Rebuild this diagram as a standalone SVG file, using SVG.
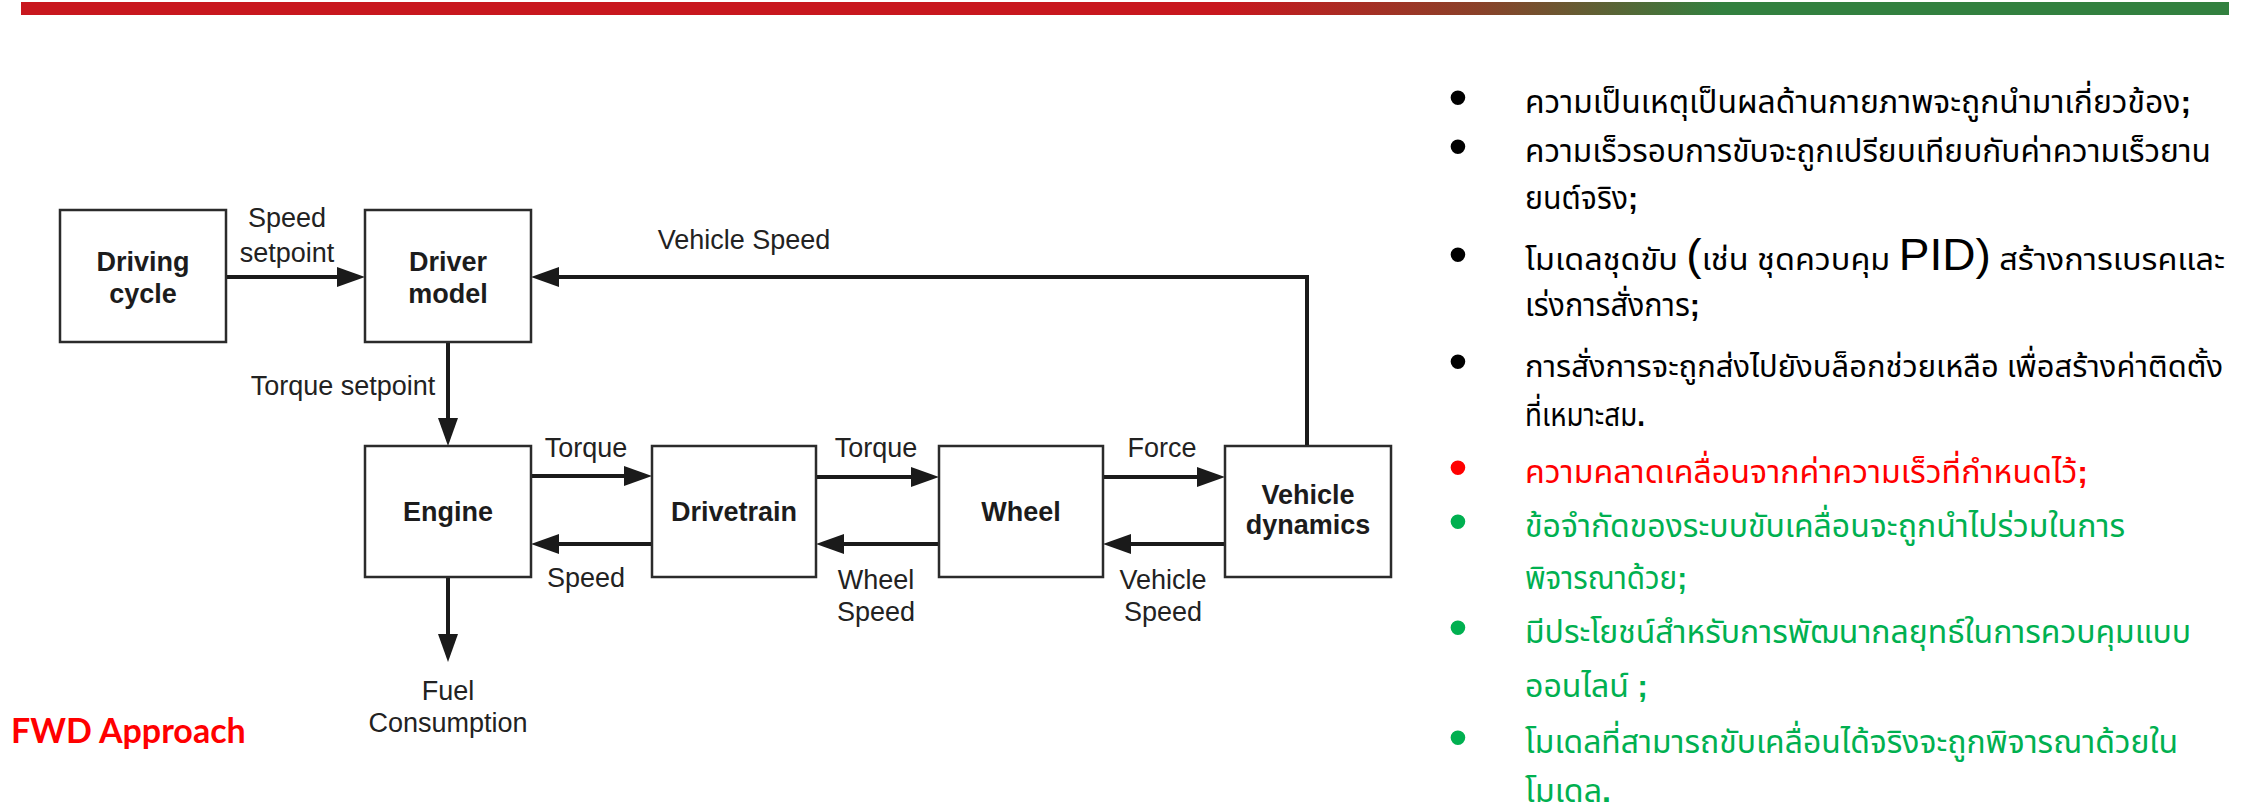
<svg xmlns="http://www.w3.org/2000/svg" width="2241" height="812" viewBox="0 0 2241 812">
  <defs>
    <linearGradient id="topBand" x1="21" y1="0" x2="2229" y2="0" gradientUnits="userSpaceOnUse">
      <stop offset="0.545" stop-color="#C8171E"/>
      <stop offset="0.66" stop-color="#8A4129"/>
      <stop offset="0.77" stop-color="#32803F"/>
    </linearGradient>
    <marker id="arrow" markerUnits="userSpaceOnUse" viewBox="0 0 28 20" markerWidth="28" markerHeight="20" refX="6" refY="10" orient="auto">
      <path d="M0,0 L28,10 L0,20 Z" fill="#1a1a1a"/>
    </marker>
    <style>
      .box { fill: #ffffff; stroke: #2b2b2b; stroke-width: 2.5; }
      .node-text { font-family: "Liberation Sans", Arial, sans-serif; font-size: 27px; font-weight: bold; fill: #1c1c1c; text-anchor: middle; }
      .lbl { font-family: "Liberation Sans", Arial, sans-serif; font-size: 27px; fill: #222222; text-anchor: middle; }
      .wire { fill: none; stroke: #1a1a1a; stroke-width: 4; marker-end: url(#arrow); }
      .th { font-family: "Noto Sans Thai", "Noto Sans Thai Looped", "Noto Sans", sans-serif; font-size: 32px; }
      .tight { font-size: 31px; }
      .semi { font-family: "Liberation Sans", Arial, sans-serif; font-weight: bold; }
      .big { font-family: "Liberation Sans", Arial, sans-serif; font-size: 44px; }
      .bullet { font-family: "Liberation Sans", Arial, sans-serif; font-size: 54px; text-anchor: middle; }
      .black { fill: #000000; }
      .red { fill: #FF0000; }
      .green { fill: #00B050; }
    </style>
  </defs>

  <!-- header band -->
  <rect x="21" y="2" width="2208" height="13" fill="url(#topBand)"/>

  <!-- connectors -->
  <g id="connectors">
    <path class="wire" d="M226,277 H343"/>
    <path class="wire" d="M1307,446 V277 H553"/>
    <path class="wire" d="M448,342 V424"/>
    <path class="wire" d="M448,577 V640"/>
    <path class="wire" d="M531,476 H630"/>
    <path class="wire" d="M652,544 H553"/>
    <path class="wire" d="M816,477 H917"/>
    <path class="wire" d="M939,544 H838"/>
    <path class="wire" d="M1103,477 H1203"/>
    <path class="wire" d="M1225,544 H1125"/>
  </g>

  <!-- connector labels -->
  <g id="connector-labels">
    <text class="lbl" x="287" y="227">Speed</text>
    <text class="lbl" x="287" y="262">setpoint</text>
    <text class="lbl" x="744" y="249">Vehicle Speed</text>
    <text class="lbl" x="343" y="395">Torque setpoint</text>
    <text class="lbl" x="586" y="457">Torque</text>
    <text class="lbl" x="586" y="587">Speed</text>
    <text class="lbl" x="876" y="457">Torque</text>
    <text class="lbl" x="876" y="589">Wheel</text>
    <text class="lbl" x="876" y="621">Speed</text>
    <text class="lbl" x="1162" y="457">Force</text>
    <text class="lbl" x="1163" y="589">Vehicle</text>
    <text class="lbl" x="1163" y="621">Speed</text>
    <text class="lbl" x="448" y="700">Fuel</text>
    <text class="lbl" x="448" y="732">Consumption</text>
  </g>

  <!-- blocks -->
  <g id="driving-cycle">
    <rect class="box" x="60" y="210" width="166" height="132"/>
    <text class="node-text" x="143" y="271">Driving</text>
    <text class="node-text" x="143" y="303">cycle</text>
  </g>
  <g id="driver-model">
    <rect class="box" x="365" y="210" width="166" height="132"/>
    <text class="node-text" x="448" y="271">Driver</text>
    <text class="node-text" x="448" y="303">model</text>
  </g>
  <g id="engine">
    <rect class="box" x="365" y="446" width="166" height="131"/>
    <text class="node-text" x="448" y="521">Engine</text>
  </g>
  <g id="drivetrain">
    <rect class="box" x="652" y="446" width="164" height="131"/>
    <text class="node-text" x="734" y="521">Drivetrain</text>
  </g>
  <g id="wheel">
    <rect class="box" x="939" y="446" width="164" height="131"/>
    <text class="node-text" x="1021" y="521">Wheel</text>
  </g>
  <g id="vehicle-dynamics">
    <rect class="box" x="1225" y="446" width="166" height="131"/>
    <text class="node-text" x="1308" y="504">Vehicle</text>
    <text class="node-text" x="1308" y="534">dynamics</text>
  </g>

  <!-- caption -->
  <text x="11" y="743" font-family="Lato, 'Liberation Sans', sans-serif" font-size="34" font-weight="bold" fill="#FF0000">FWD Approach</text>

  <!-- bullet list -->
  <g id="notes">
    <text class="bullet black" x="1458" y="116">•</text>
    <text class="th black" x="1525" y="113" textLength="666" lengthAdjust="spacingAndGlyphs">ความเป็นเหตุเป็นผลด้านกายภาพจะถูกนำมาเกี่ยวข้อง<tspan class="semi">;</tspan></text>

    <text class="bullet black" x="1458" y="165">•</text>
    <text class="th black" x="1525" y="162" textLength="686" lengthAdjust="spacingAndGlyphs">ความเร็วรอบการขับจะถูกเปรียบเทียบกับค่าความเร็วยาน</text>
    <text class="th black" x="1525" y="209" textLength="113" lengthAdjust="spacingAndGlyphs">ยนต์จริง<tspan class="semi">;</tspan></text>

    <text class="bullet black" x="1458" y="273">•</text>
    <text class="th tight black" x="1525" y="270" textLength="700" lengthAdjust="spacingAndGlyphs">โมเดลชุดขับ <tspan class="big">(</tspan>เช่น ชุดควบคุม <tspan class="big">PID)</tspan> สร้างการเบรคและ</text>
    <text class="th black" x="1525" y="316" textLength="175" lengthAdjust="spacingAndGlyphs">เร่งการสั่งการ<tspan class="semi">;</tspan></text>

    <text class="bullet black" x="1458" y="380">•</text>
    <text class="th tight black" x="1525" y="377" textLength="698" lengthAdjust="spacingAndGlyphs">การสั่งการจะถูกส่งไปยังบล็อกช่วยเหลือ เพื่อสร้างค่าติดตั้ง</text>
    <text class="th black" x="1525" y="426" textLength="120" lengthAdjust="spacingAndGlyphs">ที่เหมาะสม<tspan class="semi">.</tspan></text>

    <text class="bullet red" x="1458" y="486">•</text>
    <text class="th red" x="1525" y="483" textLength="563" lengthAdjust="spacingAndGlyphs">ความคลาดเคลื่อนจากค่าความเร็วที่กำหนดไว้<tspan class="semi">;</tspan></text>

    <text class="bullet green" x="1458" y="540">•</text>
    <text class="th green" x="1525" y="537" textLength="600" lengthAdjust="spacingAndGlyphs">ข้อจำกัดของระบบขับเคลื่อนจะถูกนำไปร่วมในการ</text>
    <text class="th green" x="1525" y="589" textLength="162" lengthAdjust="spacingAndGlyphs">พิจารณาด้วย<tspan class="semi">;</tspan></text>

    <text class="bullet green" x="1458" y="646">•</text>
    <text class="th green" x="1525" y="643" textLength="666" lengthAdjust="spacingAndGlyphs">มีประโยชน์สำหรับการพัฒนากลยุทธ์ในการควบคุมแบบ</text>
    <text class="th green" x="1525" y="697" textLength="123" lengthAdjust="spacingAndGlyphs">ออนไลน์ <tspan class="semi">;</tspan></text>

    <text class="bullet green" x="1458" y="756">•</text>
    <text class="th green" x="1525" y="753" textLength="653" lengthAdjust="spacingAndGlyphs">โมเดลที่สามารถขับเคลื่อนได้จริงจะถูกพิจารณาด้วยใน</text>
    <text class="th green" x="1525" y="802" textLength="86" lengthAdjust="spacingAndGlyphs">โมเดล<tspan class="semi">.</tspan></text>
  </g>
</svg>
